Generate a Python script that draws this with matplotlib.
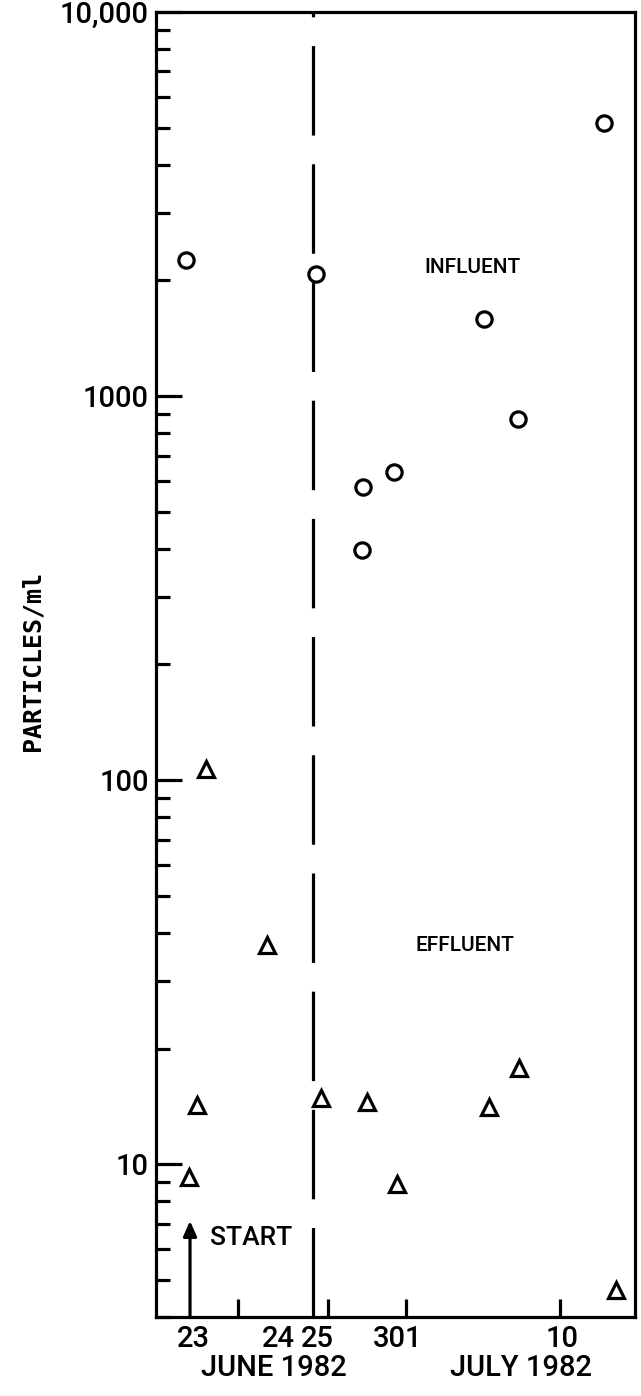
import matplotlib
matplotlib.use('Agg')
import matplotlib.pyplot as plt
from matplotlib.ticker import FixedLocator, NullFormatter, LogLocator, FixedFormatter
import matplotlib.transforms as mtransforms

# ---- data (x: time position in days after start, 23 June = 0) ----
influent_x = [-0.18, 5.78, 7.89, 7.94, 9.36, 13.49, 15.05, 18.99]
influent_y = [2260, 2080, 397, 580, 635, 1590, 870, 5140]
effluent_x = [-0.05, 0.32, 0.73, 3.53, 6.01, 8.12, 9.50, 13.72, 15.09, 19.54]
effluent_y = [9.25, 14.3, 107, 37.2, 14.9, 14.5, 8.9, 14.1, 17.8, 4.7]

x_tick_marks = [2.2, 6.33, 9.91, 16.97]
date_label_pos = [0.14, 4.04, 5.83, 9.54, 17.06]
date_labels = ['23', '24', '25', '301', '10']
month_labels = ['JUNE 1982', 'JULY 1982']
month_pos = [3.85, 15.2]
y_major = [10, 100, 1000, 10000]
y_major_labels = ['10', '100', '1000', '10,000']
divider_x = 5.64
start_x = 0.0

SANS = ['Roboto', 'DejaVu Sans']
MONO = ['DejaVu Sans Mono', 'DejaVu Sans']

fig = plt.figure(figsize=(6.41, 13.96), dpi=100)
ax = fig.add_axes([156 / 641, 1 - 1317 / 1396, 479 / 641, 1305 / 1396])

ax.set_yscale('log')
ax.set_xlim(-1.56, 20.41)
ax.set_ylim(4, 10000)

lw = 2.3
for s in ax.spines.values():
    s.set_linewidth(lw)

# y ticks
ax.yaxis.set_major_locator(FixedLocator(y_major))
ax.yaxis.set_major_formatter(FixedFormatter(y_major_labels))
ax.yaxis.set_minor_locator(LogLocator(base=10, subs=range(2, 10)))
ax.yaxis.set_minor_formatter(NullFormatter())
ax.tick_params(axis='y', which='major', direction='in', length=19, width=lw,
               labelsize=21, pad=5, left=True, right=False)
ax.tick_params(axis='y', which='minor', direction='in', length=10, width=lw,
               left=True, right=False)
for lab in ax.get_yticklabels():
    lab.set_fontfamily(SANS)
    lab.set_fontweight('medium')

# x ticks: minor = marks, major = labels
ax.xaxis.set_major_locator(FixedLocator(date_label_pos))
ax.xaxis.set_major_formatter(FixedFormatter(date_labels))
ax.xaxis.set_minor_locator(FixedLocator(x_tick_marks))
ax.xaxis.set_minor_formatter(NullFormatter())
ax.tick_params(axis='x', which='major', length=0, labelsize=21, pad=6,
               bottom=True, top=False)
ax.tick_params(axis='x', which='minor', direction='in', length=13, width=lw,
               bottom=True, top=False)
for lab in ax.get_xticklabels():
    lab.set_fontfamily(SANS)
    lab.set_fontweight('medium')

trans = mtransforms.blended_transform_factory(ax.transData, ax.transAxes)
for m, p in zip(month_labels, month_pos):
    ax.text(p, -0.039, m, transform=trans, ha='center', va='center',
            fontsize=21, family=SANS, fontweight='medium', clip_on=False)

# vertical dashed divider
ax.axvline(divider_x, color='black', lw=lw, dashes=(28, 9), zorder=1)

# data
ax.plot(influent_x, influent_y, linestyle='none', marker='o', ms=11,
        mfc='white', mec='black', mew=lw, zorder=3)
ax.plot(effluent_x, effluent_y, linestyle='none', marker='^', ms=12,
        mfc='white', mec='black', mew=lw, zorder=3)

# start arrow
ax.annotate('', xy=(start_x, 0.0736), xytext=(start_x, 0.0), xycoords=trans,
            textcoords=trans,
            arrowprops=dict(arrowstyle='-|>,head_length=0.9,head_width=0.4',
                            color='black', lw=lw, shrinkA=0, shrinkB=0))
ax.text(0.92, 0.0605, 'START', transform=trans, ha='left', va='center',
        fontsize=19, family=SANS, fontweight='medium')

ax.text(12.95, 0.804, 'INFLUENT', transform=trans, ha='center', va='center',
        fontsize=15, family=SANS, fontweight='medium')
ax.text(12.6, 0.285, 'EFFLUENT', transform=trans, ha='center', va='center',
        fontsize=15, family=SANS, fontweight='medium')

ax.set_ylabel('PARTICLES/ml', fontsize=18, family=MONO, fontweight='bold',
              va='center')
ax.yaxis.set_label_coords(-0.257, 0.503)

fig.savefig('out.png', dpi=100, facecolor='white')
